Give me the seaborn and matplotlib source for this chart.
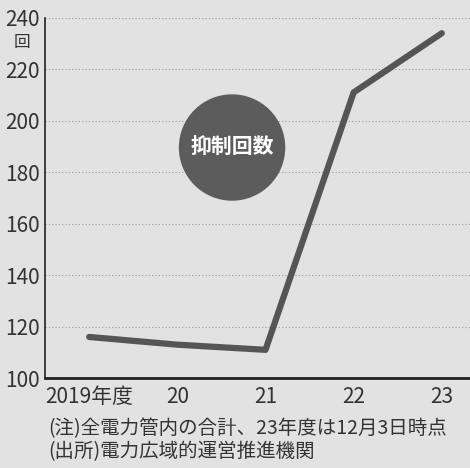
import matplotlib.pyplot as plt
import pandas as pd
import seaborn as sns

# 年度と抑制回数
years = [2019, 2020, 2021, 2022, 2023]
year_labels = ['2019年度', '20', '21', '22', '23']
counts = [116, 113, 111, 211, 234]
y_ticks = [100, 120, 140, 160, 180, 200, 220, 240]

note_lines = ['(注)全電力管内の合計、23年度は12月3日時点',
              '(出所)電力広域的運営推進機関']

data = pd.DataFrame({'year': years, 'count': counts})

sns.set_theme(style='white')
plt.rcParams['font.family'] = ['Noto Sans CJK JP', 'DejaVu Sans']

bg = '#e2e2e2'
fig = plt.figure(figsize=(4.7, 4.68), dpi=100, facecolor=bg)
ax = fig.add_axes([0.096, 0.192, 0.904, 0.77])
ax.set_facecolor(bg)

sns.lineplot(data=data, x='year', y='count', ax=ax, color='#555555', linewidth=4.5,
             solid_capstyle='round', solid_joinstyle='round')

ax.set_xlim(2018.5, 2023.32)
ax.set_ylim(100, 240)
ax.set_xticks(years)
ax.set_xticklabels(year_labels)
ax.set_yticks(y_ticks)
ax.set_xlabel('')
ax.set_ylabel('')

for y in y_ticks[1:]:
    ax.axhline(y, color='#9a9a9a', linewidth=0.8, linestyle=(0, (1, 2)), zorder=0)

for side in ['top', 'right']:
    ax.spines[side].set_visible(False)
ax.spines['left'].set_color('#222222')
ax.spines['left'].set_linewidth(1.2)
ax.spines['bottom'].set_color('#222222')
ax.spines['bottom'].set_linewidth(2)

ax.tick_params(axis='both', direction='in', length=6, width=1.2, colors='#222222',
               labelsize=15, labelcolor='#333333')
ax.tick_params(axis='y', pad=4)
ax.tick_params(axis='x', pad=6)

# 単位
fig.text(0.047, 0.91, '回', fontsize=12, color='#333333', ha='center', va='center')

# 円形ラベル
ax.text(0.44, 0.64, '抑制回数', transform=ax.transAxes, fontsize=15, fontweight='bold',
        color='white', ha='center', va='center',
        bbox=dict(boxstyle='circle,pad=0.55', facecolor='#5c5c5c', edgecolor='none'))

fig.text(0.102, 0.085, note_lines[0], fontsize=14, color='#333333', va='center')
fig.text(0.102, 0.036, note_lines[1], fontsize=14, color='#333333', va='center')

plt.savefig('out.png', dpi=100, facecolor=bg)
